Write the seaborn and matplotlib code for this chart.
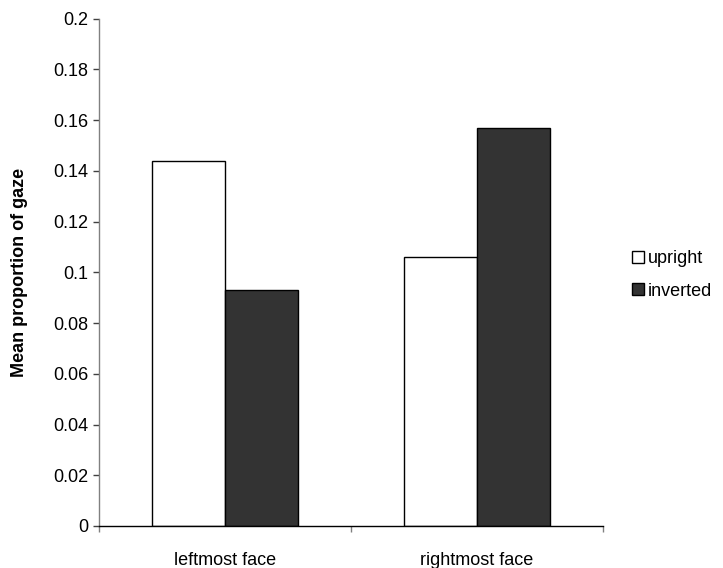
import numpy as np
import pandas as pd
import matplotlib
matplotlib.use('Agg')
import matplotlib.pyplot as plt
from matplotlib.patches import Patch
from matplotlib.ticker import FixedLocator
import seaborn as sns

# Data
positions = ['leftmost face', 'rightmost face']
conditions = ['upright', 'inverted']
upright = [0.144, 0.106]
inverted = [0.093, 0.157]
y_ticks = [0, 0.02, 0.04, 0.06, 0.08, 0.1, 0.12, 0.14, 0.16, 0.18, 0.2]
y_tick_labels = ['0', '0.02', '0.04', '0.06', '0.08', '0.1', '0.12', '0.14', '0.16', '0.18', '0.2']

palette = {'upright': '#FFFFFF', 'inverted': '#333333'}

df = pd.DataFrame({
    'Position': positions * 2,
    'Condition': ['upright'] * len(positions) + ['inverted'] * len(positions),
    'Gaze': upright + inverted,
})

sns.set_style('white')
plt.rcParams['font.family'] = ['Liberation Sans', 'DejaVu Sans']
plt.rcParams['text.color'] = 'black'
plt.rcParams['axes.labelcolor'] = 'black'
plt.rcParams['xtick.color'] = 'black'
plt.rcParams['ytick.color'] = 'black'

fs = 13

fig = plt.figure(figsize=(7.23, 5.68), dpi=100)
ax = fig.add_axes([0.137, 0.074, 0.697, 0.893])

sns.barplot(data=df, x='Position', y='Gaze', hue='Condition',
            order=positions, hue_order=conditions, palette=palette,
            width=0.58, edgecolor='black', linewidth=1.0,
            legend=False, ax=ax)

ax.set_xlim(-0.5, 1.5)
ax.set_ylim(0, 0.2)
ax.set_yticks(y_ticks)
ax.set_yticklabels(y_tick_labels, fontsize=fs)

# category labels without ticks, ticks on the category boundaries
ax.tick_params(left=True, bottom=True, which='both', labelcolor='black')
ax.tick_params(axis='x', which='major', length=0, labelsize=fs, pad=19)
ax.xaxis.set_minor_locator(FixedLocator([-0.5, 0.5, 1.5]))
ax.tick_params(axis='x', which='minor', length=4.3, width=1, color='#808080', direction='out')
ax.tick_params(axis='y', length=4.3, width=1, color='#404040', direction='out', pad=3.3)

ax.set_xlabel('')
ax.set_ylabel('Mean proportion of gaze', fontsize=fs, fontweight='bold', color='black')
ax.yaxis.set_label_coords(-0.141, 0.5)

sns.despine(ax=ax)
ax.spines['left'].set_color('#808080')
ax.spines['bottom'].set_color('#000000')
ax.spines['left'].set_linewidth(1)
ax.spines['bottom'].set_linewidth(1)

handles = [Patch(facecolor=palette[c], edgecolor='black', linewidth=1, label=c) for c in conditions]
fig.legend(handles=handles, loc='center left', bbox_to_anchor=(0.862, 0.516),
           frameon=False, fontsize=fs, handlelength=0.65, handleheight=0.65,
           handletextpad=0.2, labelspacing=0.85, borderpad=0, labelcolor='black')

fig.savefig('out.png', dpi=100)
